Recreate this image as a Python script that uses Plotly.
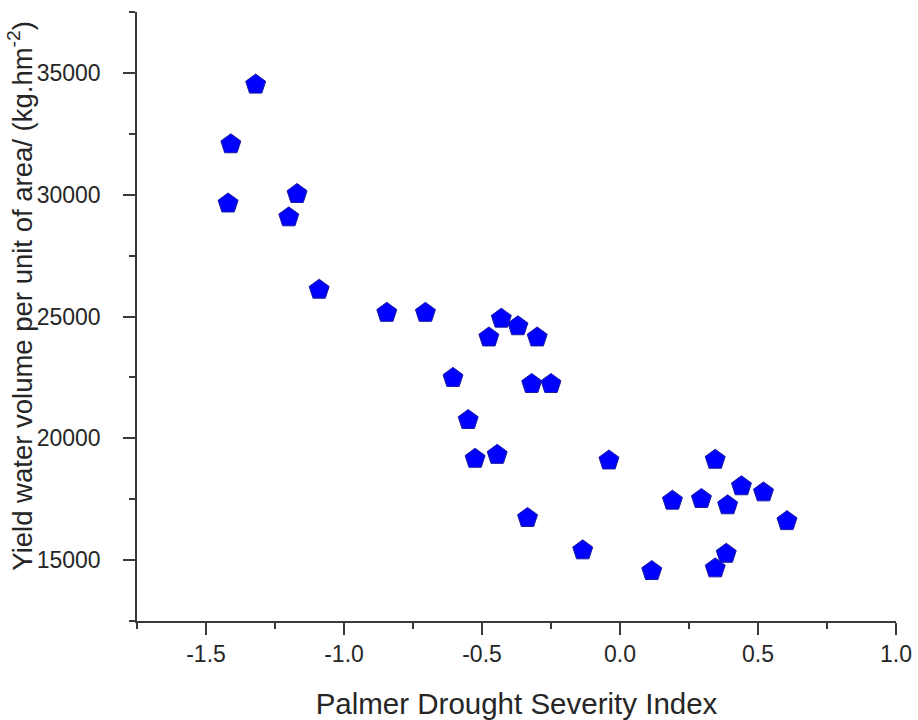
import plotly.graph_objects as go

pdsi = [-1.32, -1.41, -1.42, -1.17, -1.20, -1.09, -0.845, -0.705, -0.43, -0.37,
        -0.475, -0.30, -0.605, -0.32, -0.25, -0.55, -0.525, -0.445, -0.04, -0.335,
        -0.135, 0.345, 0.19, 0.295, 0.39, 0.44, 0.52, 0.605, 0.115, 0.385, 0.345]
yield_water = [34520, 32070, 29640, 30030, 29070, 26100, 25150, 25150, 24910, 24600,
               24140, 24140, 22480, 22230, 22230, 20750, 19160, 19320, 19090, 16730,
               15400, 19120, 17440, 17510, 17250, 18030, 17780, 16600, 14550, 15260, 14660]

x_ticks = [-1.5, -1.0, -0.5, 0.0, 0.5, 1.0]
x_tick_labels = ["-1.5", "-1.0", "-0.5", "0.0", "0.5", "1.0"]
y_ticks = [15000, 20000, 25000, 30000, 35000]
y_tick_labels = ["15000", "20000", "25000", "30000", "35000"]

FONT = "Liberation Sans, Arial, sans-serif"
AXC = "#3a3a3a"
TXT = "#262626"

fig = go.Figure()
fig.add_trace(go.Scatter(
    x=pdsi, y=yield_water, mode="markers",
    marker=dict(symbol="pentagon", size=21, color="#0000ff",
                line=dict(color="#1a1aa0", width=1)),
    showlegend=False, cliponaxis=False,
))

fig.update_layout(
    width=918, height=720,
    margin=dict(l=137, r=22, t=12, b=99, autoexpand=False),
    paper_bgcolor="white", plot_bgcolor="white",
    font=dict(family=FONT, color=TXT),
)
fig.update_xaxes(
    range=[-1.75, 1.0], tickvals=x_ticks, ticktext=x_tick_labels, automargin=False,
    showline=True, linecolor=AXC, linewidth=1.5, showgrid=False, zeroline=False,
    ticks="outside", ticklen=12, tickwidth=1.5, tickcolor=AXC,
    minor=dict(dtick=0.25, tick0=0, ticks="outside", ticklen=6, tickwidth=1.5, tickcolor=AXC, showgrid=False),
    tickfont=dict(size=23, family=FONT, color=TXT), ticklabelstandoff=0,
    title=dict(text="Palmer Drought Severity Index", font=dict(size=29.5, family=FONT, color=TXT), standoff=33),
)
fig.update_yaxes(
    range=[12500, 37500], tickvals=y_ticks, ticktext=y_tick_labels, automargin=False,
    showline=True, linecolor=AXC, linewidth=1.5, showgrid=False, zeroline=False,
    ticks="outside", ticklen=12, tickwidth=1.5, tickcolor=AXC,
    minor=dict(dtick=2500, tick0=0, ticks="outside", ticklen=6, tickwidth=1.5, tickcolor=AXC, showgrid=False),
    tickfont=dict(size=23, family=FONT, color=TXT), ticklabelstandoff=18,
)
fig.add_annotation(
    text="Yield water volume per unit of area/ (kg.hm<sup>-2</sup>)",
    xref="paper", yref="paper", x=-0.153, y=0.534, textangle=-90,
    showarrow=False, xanchor="center", yanchor="middle",
    font=dict(size=27.5, family=FONT, color=TXT),
)

fig.write_html("out.html", config={"displayModeBar": False},
               post_script="document.body.style.margin='0';document.body.style.overflow='hidden';")
